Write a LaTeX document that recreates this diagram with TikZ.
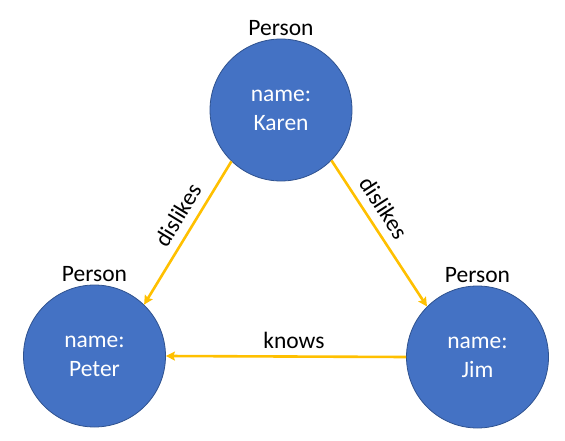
\documentclass[tikz,border=0pt]{standalone}
\usepackage{fontspec}
\setmainfont{Carlito}
\usetikzlibrary{arrows.meta}

\begin{document}
\begin{tikzpicture}[x=1pt, y=1pt,
    font=\fontsize{23.5}{29}\selectfont,
    person/.style={circle, fill={rgb,255:red,68;green,114;blue,196}, draw={rgb,255:red,47;green,82;blue,143},
        line width=0.8pt, minimum size=142pt, inner sep=0pt, text=white, align=center,
        label={[label distance=-1pt]above:Person}},
    rel/.style={line width=2.6pt, draw={rgb,255:red,255;green,192;blue,0},
        -{Stealth[length=9pt, width=9pt, inset=1.5pt]}}]
            \useasboundingbox (0, 0) rectangle (565, 440);

            \node[person] (karen) at (281, 330) {name:\\Karen};
            \node[person] (peter) at (94.5, 84) {name:\\Peter};
            \node[person] (jim) at (477.5, 83) {name:\\Jim};

            \draw [rel] (karen.226) -- (peter.46) node[pos=0.44, sloped, above=5pt] {dislikes};
            \draw [rel] (karen.315) -- (jim.135) node[pos=0.39, sloped, above=5pt] {dislikes};
            \draw [rel] (jim.west) -- (peter.east) node[pos=0.467, above=3pt] {knows};

        \end{tikzpicture}
\end{document}
